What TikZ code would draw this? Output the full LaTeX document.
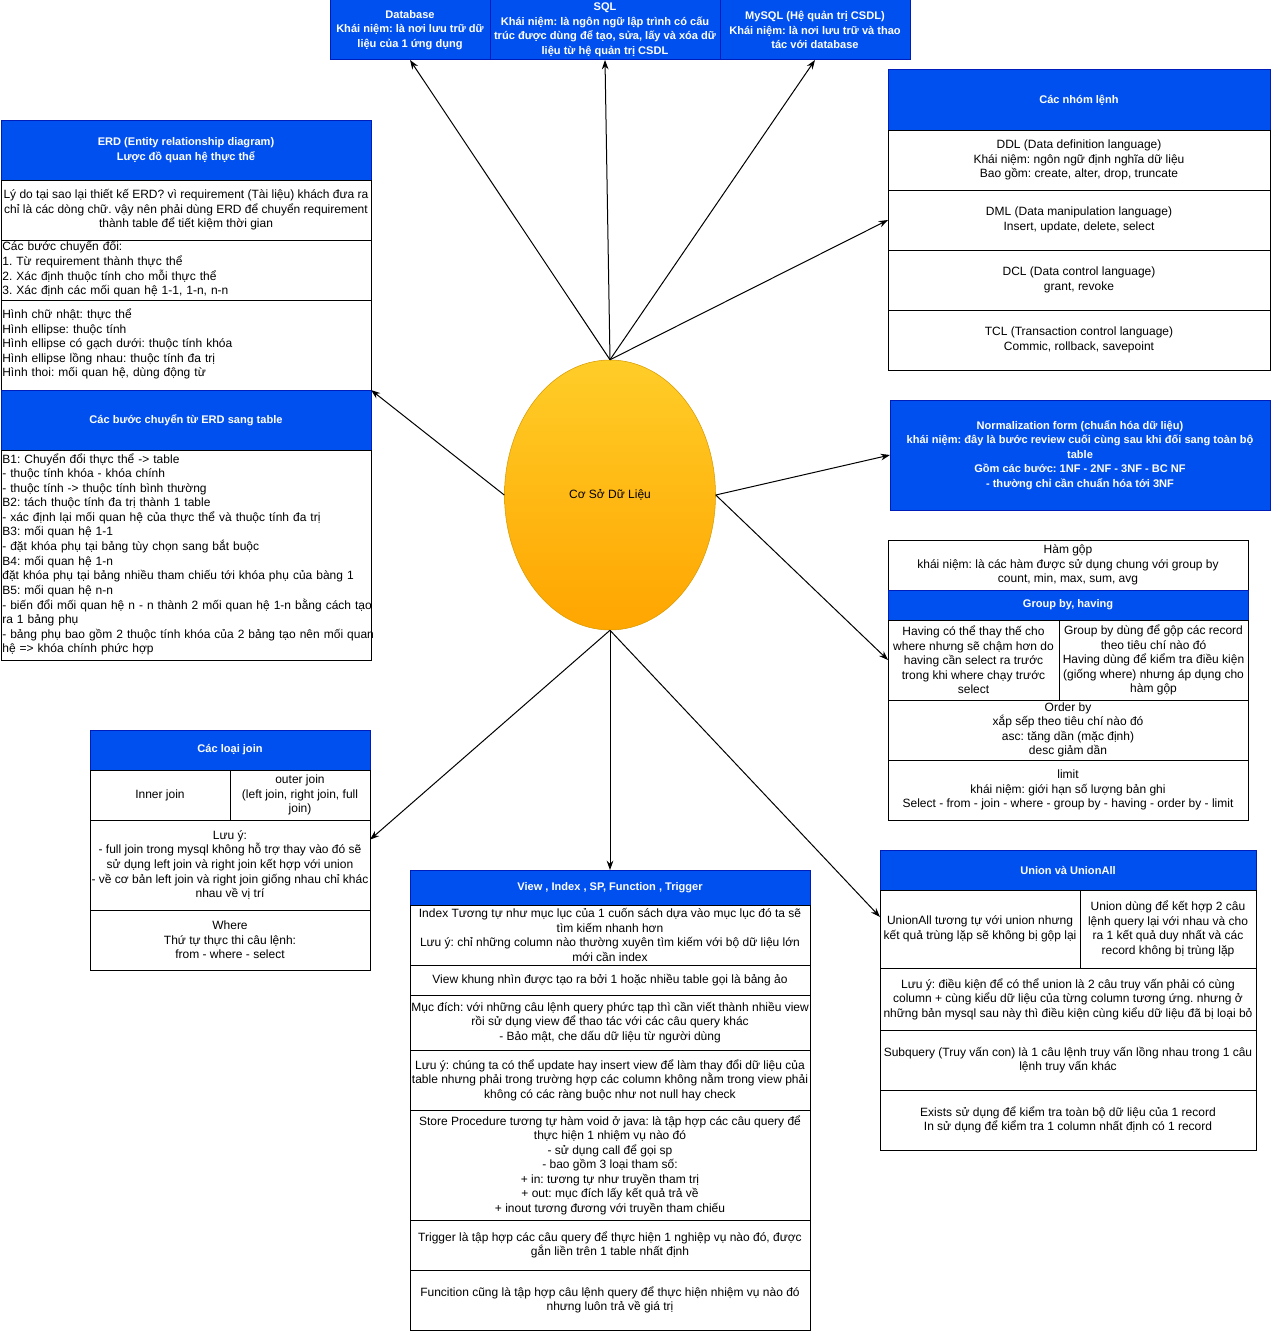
\documentclass[tikz,border=0pt]{standalone}
\usepackage{fontspec}
\setmainfont{Liberation Sans}
\usepackage{tikz}
\usetikzlibrary{shapes.geometric,arrows.meta}

\definecolor{hdrblue}{HTML}{0050EF}
\definecolor{hdrline}{HTML}{001DBC}
\definecolor{ovaltop}{HTML}{FFCD28}
\definecolor{ovalbot}{HTML}{FFA500}
\definecolor{ovalline}{HTML}{D79B00}

\frenchspacing
% left aligned lines that never wrap
\newcommand\leftrows[1]{\begin{tabular}{@{}l@{}}#1\end{tabular}}

\tikzset{
  txt/.style={font=\fontsize{9}{10.9}\selectfont},
  cell/.style 2 args={txt, draw=black, line width=0.75pt, fill=white, anchor=north west,
    outer sep=0pt, inner xsep=1pt, inner ysep=0pt, align=center,
    minimum width=#1*0.75pt, minimum height=#2*0.75pt},
  lcell/.style 2 args={cell={#1}{#2}, align=left, text width=#1*0.75pt-2pt},
  hcell/.style 2 args={cell={#1}{#2}, draw=hdrline, fill=hdrblue, text=white,
    font=\fontsize{8.3}{10.9}\selectfont\bfseries},
  arr/.style={-{Stealth[length=7pt,width=5pt]}, line width=0.75pt},
}

\begin{document}
\begin{tikzpicture}[x=0.75pt,y=-0.75pt]
        \useasboundingbox (0,0) rectangle (1271,1331);

        % Draw the centre oval
        \node[ellipse, draw=ovalline, top color=ovaltop, bottom color=ovalbot, txt,
              minimum width=211*0.75pt, minimum height=270*0.75pt] (csdl) at (610,495) {Cơ Sở Dữ Liệu};

        % Draw the top row
        \node[hcell={160}{60}] (db) at (330,0) {Database\\Khái niệm: là nơi lưu trữ dữ\\liệu của 1 ứng dụng};
        \node[hcell={230}{60}] (sql) at (490,0) {SQL\\Khái niệm: là ngôn ngữ lập trình có cấu\\trúc được dùng để tạo, sửa, lấy và xóa dữ\\liệu từ hệ quản trị CSDL};
        \node[hcell={190}{60}] (mysql) at (720,0) {MySQL (Hệ quản trị CSDL)\\Khái niệm: là nơi lưu trữ và thao\\tác với database};

        % Draw the ERD table
        \node[hcell={370}{60}] (erdh) at (1,120) {ERD (Entity relationship diagram)\\Lược đồ quan hệ thực thể};
        \node[cell={370}{60}] (erd1) at (1,180) {Lý do tại sao lại thiết kế ERD? vì requirement (Tài liệu) khách đưa ra\\chỉ là các dòng chữ. vậy nên phải dùng ERD để chuyển requirement\\thành table để tiết kiệm thời gian};
        \node[lcell={370}{60}] (erd2) at (1,240) {\leftrows{Các bước chuyển đổi:\\1. Từ requirement thành thực thể\\2. Xác định thuộc tính cho mỗi thực thể\\3. Xác định các mối quan hệ 1-1, 1-n, n-n}};
        \node[lcell={370}{90}] (erd3) at (1,300) {\leftrows{Hình chữ nhật: thực thể\\Hình ellipse: thuộc tính\\Hình ellipse có gạch dưới: thuộc tính khóa\\Hình ellipse lồng nhau: thuộc tính đa trị\\Hình thoi: mối quan hệ, dùng động từ}};

        % Draw the ERD -> table steps
        \node[hcell={370}{60}] (steph) at (1,390) {Các bước chuyển từ ERD sang table};
        \node[lcell={370}{210}] (stepb) at (1,450) {\leftrows{B1: Chuyển đổi thực thể -> table\\- thuộc tính khóa - khóa chính\\- thuộc tính -> thuộc tính bình thường\\B2: tách thuộc tính đa trị thành 1 table\\- xác định lại mối quan hệ của thực thể và thuộc tính đa trị\\B3: mối quan hệ 1-1\\- đặt khóa phụ tại bảng tùy chọn sang bắt buộc\\B4: mối quan hệ 1-n\\đặt khóa phụ tại bảng nhiều tham chiếu tới khóa phụ của bàng 1\\B5: mối quan hệ n-n\\- biến đổi mối quan hệ n - n thành 2 mối quan hệ 1-n bằng cách tạo\\ra 1 bảng phụ\\- bảng phụ bao gồm 2 thuộc tính khóa của 2 bảng tạo nên mối quan\\hệ => khóa chính phức hợp}};

        % Draw the command groups
        \node[hcell={382}{60}] (cmdh) at (888,70) {Các nhóm lệnh};
        \node[cell={382}{60}] (ddl) at (888,130) {DDL (Data definition language)\\Khái niệm: ngôn ngữ định nghĩa dữ liệu\\Bao gồm: create, alter, drop, truncate};
        \node[cell={382}{60}] (dml) at (888,190) {DML (Data manipulation language)\\Insert, update, delete, select};
        \node[cell={382}{60}] (dcl) at (888,250) {DCL (Data control language)\\grant, revoke};
        \node[cell={382}{60}] (tcl) at (888,310) {TCL (Transaction control language)\\Commic, rollback, savepoint};

        % Draw the normalization box
        \node[hcell={380}{110}] (norm) at (890,400) {Normalization form (chuẩn hóa dữ liệu)\\khái niệm: đây là bước review cuối cùng sau khi đối sang toàn bộ\\table\\Gồm các bước: 1NF - 2NF - 3NF - BC NF\\- thường chỉ cần chuẩn hóa tới 3NF};

        % Draw the group by table
        \node[cell={360}{50}] (agg) at (888,540) {Hàm gộp\\khái niệm: là các hàm được sử dụng chung với group by\\count, min, max, sum, avg};
        \node[hcell={360}{30}] (grph) at (888,590) {Group by, having};
        \node[cell={171}{80}] (having) at (888,620) {Having có thể thay thế cho\\where nhưng sẽ chậm hơn do\\having cần select ra trước\\trong khi where chạy trước\\select};
        \node[cell={189}{80}] (grpby) at (1059,620) {Group by dùng để gộp các record\\theo tiêu chí nào đó\\Having dùng để kiểm tra điều kiện\\(giống where) nhưng áp dụng cho\\hàm gộp};
        \node[cell={360}{60}] (order) at (888,700) {Order by\\xắp sếp theo tiêu chí nào đó\\asc: tăng dần (mặc định)\\desc giảm dần};
        \node[cell={360}{60}] (limit) at (888,760) {limit\\khái niệm: giới hạn số lượng bản ghi\\Select - from - join - where - group by - having - order by - limit};

        % Draw the join table
        \node[hcell={280}{40}] (joinh) at (90,730) {Các loại join};
        \node[cell={140}{50}] (inner) at (90,770) {Inner join};
        \node[cell={140}{50}] (outer) at (230,770) {outer join\\(left join, right join, full\\join)};
        \node[cell={280}{90}] (jnote) at (90,820) {Lưu ý:\\- full join trong mysql không hỗ trợ thay vào đó sẽ\\sử dụng left join và right join kết hợp với union\\- về cơ bản left join và right join giống nhau chỉ khác\\nhau về vị trí};
        \node[cell={280}{60}] (where) at (90,910) {Where\\Thứ tự thực thi câu lệnh:\\from - where - select};

        % Draw the view / index table
        \node[hcell={400}{35}] (viewh) at (410,870) {View , Index , SP, Function , Trigger};
        \node[cell={400}{60}] (idx) at (410,905) {Index Tương tự như mục lục của 1 cuốn sách dựa vào mục lục đó ta sẽ\\tìm kiếm nhanh hơn\\Lưu ý: chỉ những column nào thường xuyên tìm kiếm với bộ dữ liệu lớn\\mới cần index};
        \node[cell={400}{30}] (vw) at (410,965) {View khung nhìn được tạo ra bởi 1 hoặc nhiều table gọi là bảng ảo};
        \node[cell={400}{55}] (purp) at (410,995) {Mục đích: với những câu lệnh query phức tạp thì cần viết thành nhiều view\\rồi sử dụng view để thao tác với các câu query khác\\- Bảo mật, che dấu dữ liệu từ người dùng};
        \node[cell={400}{60}] (vnote) at (410,1050) {Lưu ý: chúng ta có thể update hay insert view để làm thay đổi dữ liệu của\\table nhưng phải trong trường hợp các column không nằm trong view phải\\không có các ràng buộc như not null hay check};
        \node[cell={400}{110}] (sp) at (410,1110) {Store Procedure tương tự hàm void ở java: là tập hợp các câu query để\\thực hiện 1 nhiệm vụ nào đó\\- sử dụng call để gọi sp\\- bao gồm 3 loại tham số:\\+ in: tương tự như truyền tham trị\\+ out: mục đích lấy kết quả trả về\\+ inout tương đương với truyền tham chiếu};
        \node[cell={400}{50}] (trig) at (410,1220) {Trigger là tập hợp các câu query để thực hiện 1 nghiệp vụ nào đó, được\\gắn liền trên 1 table nhất định};
        \node[cell={400}{60}] (func) at (410,1270) {Funcition cũng là tập hợp câu lệnh query để thực hiện nhiệm vụ nào đó\\nhưng luôn trả về giá trị};

        % Draw the union table
        \node[hcell={376}{40}] (unih) at (880,850) {Union và UnionAll};
        \node[cell={200}{78}] (uall) at (880,890) {UnionAll tương tự với union nhưng\\kết quả trùng lặp sẽ không bị gộp lại};
        \node[cell={176}{78}] (uni) at (1080,890) {Union dùng để kết hợp 2 câu\\lệnh query lại với nhau và cho\\ra 1 kết quả duy nhất và các\\record không bị trùng lặp};
        \node[cell={376}{62}] (unote) at (880,968) {Lưu ý: điều kiện để có thể union là 2 câu truy vấn phải có cùng\\column + cùng kiểu dữ liệu của từng column tương ứng. nhưng ở\\những bản mysql sau này thì điều kiện cùng kiểu dữ liệu đã bị loại bỏ};
        \node[cell={376}{60}] (subq) at (880,1030) {Subquery (Truy vấn con) là 1 câu lệnh truy vấn lồng nhau trong 1 câu\\lệnh truy vấn khác};
        \node[cell={376}{60}] (exists) at (880,1090) {Exists sử dụng để kiểm tra toàn bộ dữ liệu của 1 record\\In sử dụng để kiểm tra 1 column nhất định có 1 record};

        % Draw the arrows out of the oval
        \draw[arr] (csdl.north) -- (db.south);
        \draw[arr] (csdl.north) -- (sql.south);
        \draw[arr] (csdl.north) -- (mysql.south);
        \draw[arr] (csdl.north) -- (dml.west); % command groups
        \draw[arr] (csdl.east) -- (norm.west);
        \draw[arr] (csdl.east) -- (having.west); % group by
        \draw[arr] (csdl.west) -- (steph.north east); % ERD
        \draw[arr] (csdl.south) -- (viewh.north);
        \draw[arr] (csdl.south) -- ([yshift=19pt]jnote.east); % joins
        \draw[arr] (csdl.south) -- ([yshift=9pt]uall.west); % union

    \end{tikzpicture}
\end{document}
